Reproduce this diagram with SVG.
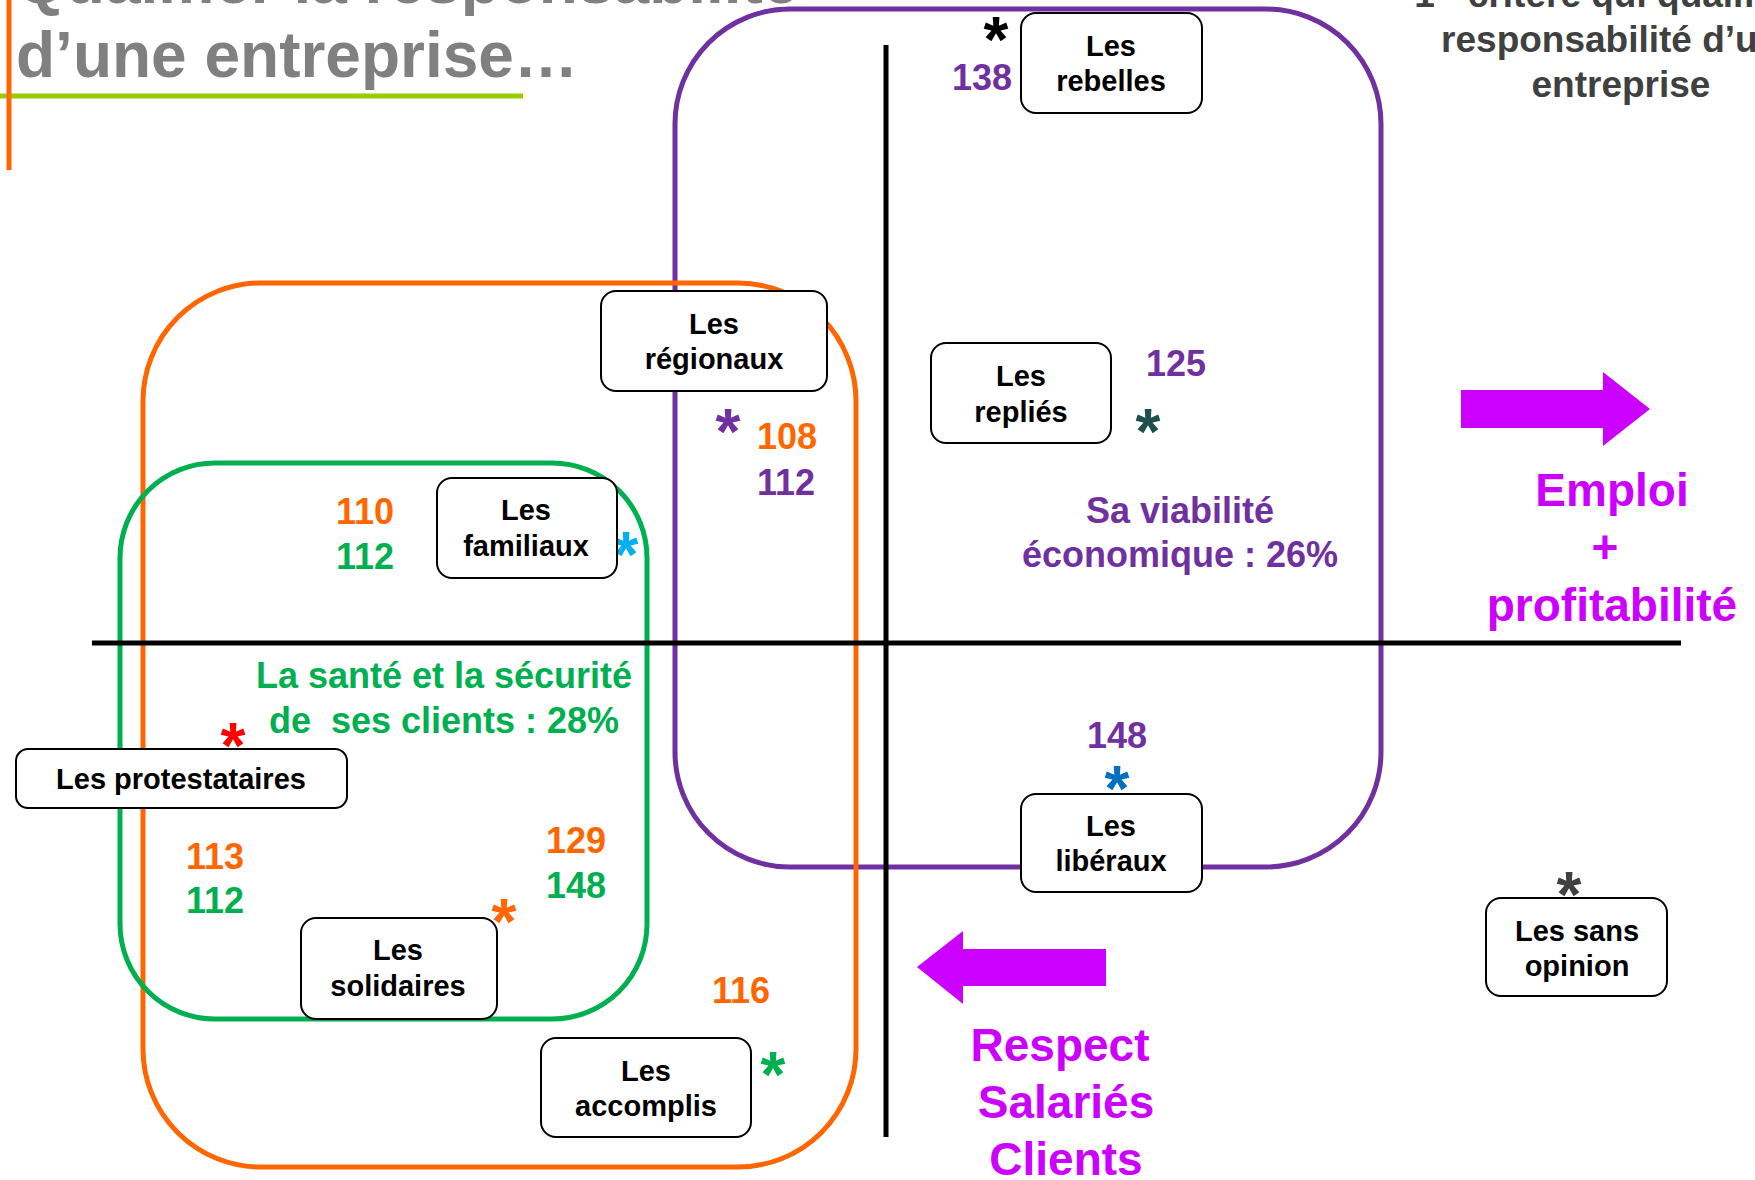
<svg xmlns="http://www.w3.org/2000/svg" width="1755" height="1180" viewBox="0 0 1755 1180">
<style>
text{font-family:"Liberation Sans",Arial,sans-serif;font-weight:bold}
.node rect{fill:#fff;stroke:#000;stroke-width:2}
.node text{font-size:29px;fill:#000;text-anchor:middle}
.num{font-size:36px}
.ast{font-size:64px;text-anchor:middle}
.pu{fill:#7030A0}.or{fill:#FF6600}.gr{fill:#00B050}
.mag{fill:#CC00FF;font-size:46px;text-anchor:middle}
.zone{fill:none;stroke-width:5}
</style>
<rect width="1755" height="1180" fill="#fff"/>
<!-- title -->
<g id="title">
<text x="16" y="3" font-size="64" fill="#808080">Qualifier la responsabilité</text>
<text x="16" y="77" font-size="64" fill="#808080">d’une entreprise…</text>
<line x1="0" y1="96" x2="523" y2="96" stroke="#99CC00" stroke-width="5"/>
<line x1="9" y1="0" x2="9" y2="170" stroke="#FF6600" stroke-width="5"/>
</g>
<g id="subtitle" fill="#404040" font-size="37" text-anchor="middle">
<text x="1621" y="7">1<tspan font-size="24" dy="-14">er</tspan><tspan dy="14"> critère qui qualifie la</tspan></text>
<text x="1621" y="52">responsabilité d’une</text>
<text x="1621" y="97">entreprise</text>
</g>
<!-- zones -->
<g id="zones">
<rect class="zone" x="675" y="9" width="706" height="858" rx="115" stroke="#7030A0"/>
<rect class="zone" x="143" y="283" width="713" height="884" rx="118" stroke="#FF6600"/>
<rect class="zone" x="120" y="463" width="527" height="556" rx="95" stroke="#00B050"/>
</g>
<!-- connectors: axes and arrows -->
<g id="connectors">
<line x1="92" y1="643" x2="1681" y2="643" stroke="#000" stroke-width="5"/>
<line x1="886" y1="45" x2="886" y2="1137" stroke="#000" stroke-width="5"/>
<polygon points="1461,390 1603,390 1603,372 1650,409 1603,446 1603,428 1461,428" fill="#CC00FF"/>
<polygon points="1106,949 963,949 963,931 917,967 963,1004 963,986 1106,986" fill="#CC00FF"/>
</g>
<!-- labels -->
<g id="labels">
<text class="mag" x="1612" y="506">Emploi</text>
<text class="mag" x="1605" y="563">+</text>
<text class="mag" x="1612" y="621" font-size="47">profitabilité</text>
<text class="mag" x="1060" y="1061">Respect</text>
<text class="mag" x="1066" y="1118">Salariés</text>
<text class="mag" x="1066" y="1175">Clients</text>
<text class="pu" font-size="36" text-anchor="middle" x="1180" y="523">Sa viabilité</text>
<text class="pu" font-size="36" text-anchor="middle" x="1180" y="567">économique : 26%</text>
<text class="gr" font-size="36" text-anchor="middle" x="444" y="688">La santé et la sécurité</text>
<text class="gr" font-size="36" text-anchor="middle" x="444" y="733" xml:space="preserve">de  ses clients : 28%</text>
</g>
<!-- numbers -->
<g id="numbers">
<text class="num pu" x="1012" y="90" text-anchor="end">138</text>
<text class="num pu" x="1146" y="376">125</text>
<text class="num or" x="757" y="449">108</text>
<text class="num pu" x="757" y="495">112</text>
<text class="num or" x="336" y="524">110</text>
<text class="num gr" x="336" y="569">112</text>
<text class="num or" x="186" y="869">113</text>
<text class="num gr" x="186" y="913">112</text>
<text class="num or" x="546" y="853">129</text>
<text class="num gr" x="546" y="898">148</text>
<text class="num or" x="712" y="1003">116</text>
<text class="num pu" x="1087" y="748">148</text>
</g>
<!-- asterisks -->
<g id="asterisks">
<text class="ast" x="996" y="62" fill="#000">*</text>
<text class="ast" x="728" y="454" fill="#7030A0">*</text>
<text class="ast" x="1148" y="454" fill="#1F4E4E">*</text>
<text class="ast" x="626" y="577" fill="#00B0F0">*</text>
<text class="ast" x="233" y="768" fill="#FF0000">*</text>
<text class="ast" x="504" y="944" fill="#FF6600">*</text>
<text class="ast" x="773" y="1097" fill="#00B050">*</text>
<text class="ast" x="1117" y="811" fill="#0070C0">*</text>
<text class="ast" x="1569" y="917" fill="#404040">*</text>
</g>
<!-- nodes -->
<g id="node-rebelles" class="node"><rect x="1021" y="13" width="181" height="100" rx="15"/><text x="1111" y="56">Les</text><text x="1111" y="91">rebelles</text></g>
<g id="node-regionaux" class="node"><rect x="601" y="291" width="226" height="100" rx="15"/><text x="714" y="334">Les</text><text x="714" y="369">régionaux</text></g>
<g id="node-replies" class="node"><rect x="931" y="343" width="180" height="100" rx="15"/><text x="1021" y="386">Les</text><text x="1021" y="422">repliés</text></g>
<g id="node-familiaux" class="node"><rect x="437" y="478" width="180" height="100" rx="15"/><text x="526" y="520">Les</text><text x="526" y="556">familiaux</text></g>
<g id="node-protestataires" class="node"><rect x="16" y="749" width="331" height="59" rx="12"/><text x="181" y="789">Les protestataires</text></g>
<g id="node-solidaires" class="node"><rect x="301" y="918" width="196" height="101" rx="15"/><text x="398" y="960">Les</text><text x="398" y="996">solidaires</text></g>
<g id="node-accomplis" class="node"><rect x="541" y="1038" width="210" height="99" rx="15"/><text x="646" y="1081">Les</text><text x="646" y="1116">accomplis</text></g>
<g id="node-liberaux" class="node"><rect x="1021" y="794" width="181" height="98" rx="15"/><text x="1111" y="836">Les</text><text x="1111" y="871">libéraux</text></g>
<g id="node-sans-opinion" class="node"><rect x="1486" y="898" width="181" height="98" rx="15"/><text x="1577" y="941">Les sans</text><text x="1577" y="976">opinion</text></g>
</svg>
